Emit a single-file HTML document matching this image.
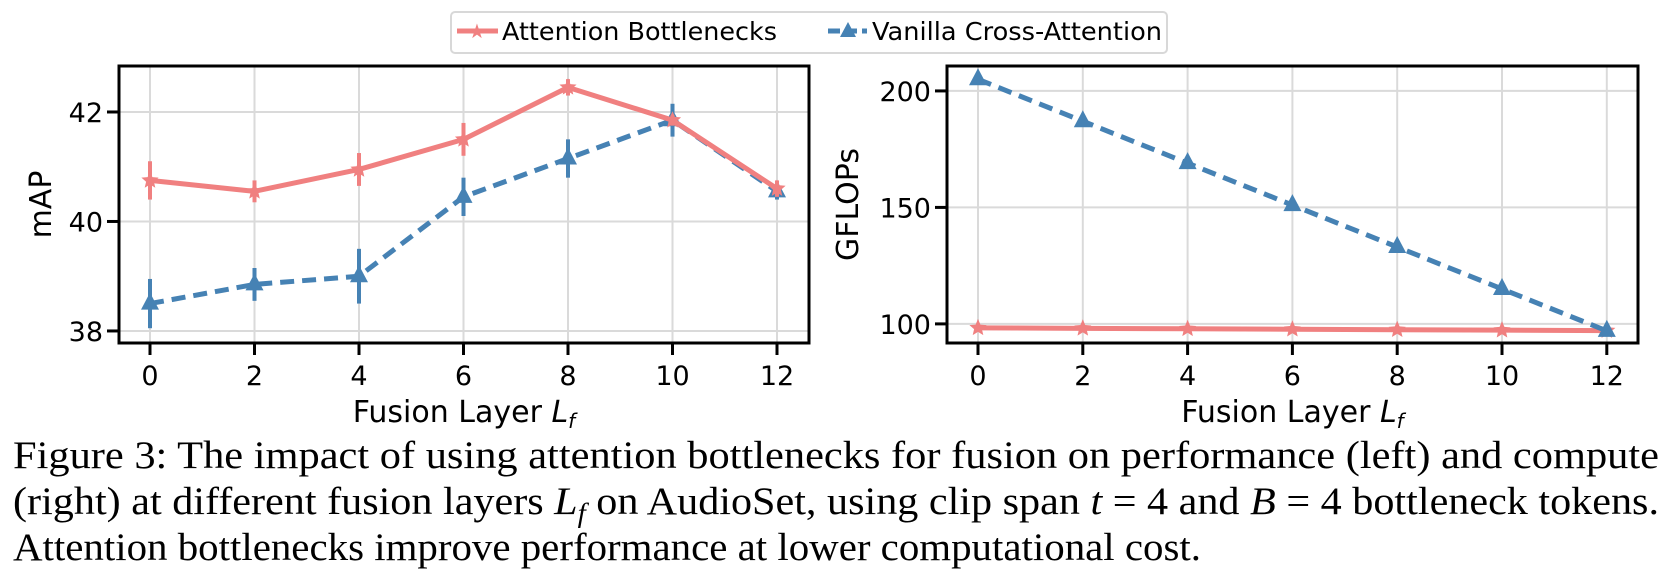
<!DOCTYPE html>
<html><head><meta charset="utf-8"><style>
html,body{margin:0;padding:0;background:#fff;}
svg{display:block;}
</style></head><body>
<svg id="fig" width="1662" height="578" viewBox="0 0 1662 578" xmlns="http://www.w3.org/2000/svg" font-family="DejaVu Sans, sans-serif">
<g id="legend">
  <rect x="451" y="12" width="716" height="41" rx="4" fill="#fff" stroke="#d8d8d8" stroke-width="2"/>
  <g>
    <line x1="457" y1="31" x2="498" y2="31" stroke="#F08080" stroke-width="5"/>
    <text x="477" y="38" font-size="20" fill="#F08080" text-anchor="middle">★</text>
    <text x="502" y="40" font-size="25" textLength="275" lengthAdjust="spacingAndGlyphs">Attention Bottlenecks</text>
  </g>
  <g>
    <line x1="828" y1="31" x2="867" y2="31" stroke="#4682B4" stroke-width="5" stroke-dasharray="12,5"/>
    <polygon points="848,22 856,37 840,37" fill="#4682B4"/>
    <text x="872" y="40" font-size="25" textLength="290" lengthAdjust="spacingAndGlyphs">Vanilla Cross-Attention</text>
  </g>
</g>
<g id="left"></g>
<g id="right"></g>
<g font-family="Liberation Serif, serif" font-size="39">
  <text x="13" y="468" textLength="1646" lengthAdjust="spacingAndGlyphs">Figure 3: The impact of using attention bottlenecks for fusion on performance (left) and compute</text>
  <text x="13" y="514" textLength="1646" lengthAdjust="spacingAndGlyphs">(right) at different fusion layers <tspan font-style="italic">L</tspan><tspan font-style="italic" font-size="27" dy="8">f</tspan><tspan dy="-8"> on AudioSet, using clip span </tspan><tspan font-style="italic">t</tspan> = 4 and <tspan font-style="italic">B</tspan> = 4 bottleneck tokens.</text>
  <text x="13" y="560" textLength="1188" lengthAdjust="spacingAndGlyphs">Attention bottlenecks improve performance at lower computational cost.</text>
</g>
</svg>
<script>
const layers = [0, 2, 4, 6, 8, 10, 12];
const mapBottleneck = [40.75, 40.55, 40.95, 41.5, 42.45, 41.85, 40.6];
const mapBottleneckErr = [0.35, 0.2, 0.3, 0.3, 0.15, 0.1, 0.15];
const mapVanilla = [38.5, 38.85, 39.0, 40.45, 41.15, 41.85, 40.55];
const mapVanillaErr = [0.45, 0.3, 0.5, 0.35, 0.35, 0.3, 0.15];
const gflopsBottleneck = [98.3, 98.1, 97.9, 97.7, 97.5, 97.3, 97.1];
const gflopsVanilla = [205, 187, 169, 151, 133, 115, 97];
const xTicks = [0, 2, 4, 6, 8, 10, 12];
const mapTicks = [38, 40, 42];
const gflopsTicks = [100, 150, 200];

const NS = 'http://www.w3.org/2000/svg';
function mk(parent, tag, attrs, text) {
  const e = document.createElementNS(NS, tag);
  for (const k in attrs) e.setAttribute(k, attrs[k]);
  if (text !== undefined) e.textContent = text;
  parent.appendChild(e);
  return e;
}
function star(cx, cy, r) {
  let p = [];
  for (let i = 0; i < 10; i++) {
    const a = -Math.PI / 2 + i * Math.PI / 5;
    const rr = i % 2 ? r * 0.45 : r;
    p.push((cx + rr * Math.cos(a)).toFixed(1) + ',' + (cy + rr * Math.sin(a)).toFixed(1));
  }
  return p.join(' ');
}
function drawChart(g, cfg) {
  const L = cfg.box[0], T = 66, R = cfg.box[1], B = 343;
  const xs = v => cfg.x0 + (v - 0) * cfg.xStep / 2;
  const ys = v => B - (v - cfg.yMin) / (cfg.yMax - cfg.yMin) * (B - T);
  xTicks.forEach(t => {
    const l = mk(g, 'line', {x1: xs(t), x2: xs(t), y1: T, y2: B, stroke: '#dadada', 'stroke-width': 2});
    
    
    mk(g, 'line', {x1: xs(t), x2: xs(t), y1: B, y2: B + 12, stroke: '#000', 'stroke-width': 3});
    const tx = mk(g, 'text', {x: xs(t), y: 385, 'font-size': 27, 'text-anchor': 'middle'}, String(t));
    
    
  });
  cfg.yTicks.forEach(t => {
    const l = mk(g, 'line', {x1: L, x2: R, y1: ys(t), y2: ys(t), stroke: '#dadada', 'stroke-width': 2});
    
    
    mk(g, 'line', {x1: L - 12, x2: L, y1: ys(t), y2: ys(t), stroke: '#000', 'stroke-width': 3});
    const tx = mk(g, 'text', {x: L - 16, y: ys(t) + 10, 'font-size': 27, 'text-anchor': 'end'}, String(t));
    
    
  });
  cfg.series.forEach(s => {
    const sg = mk(g, 'g', {});
    
    
    const pts = layers.map((v, i) => xs(v) + ',' + ys(s.vals[i])).join(' ');
    const attrs = {points: pts, fill: 'none', stroke: s.color, 'stroke-width': 5, 'stroke-linejoin': 'round'};
    if (s.dash) attrs['stroke-dasharray'] = '14,8';
    mk(sg, 'polyline', attrs);
    layers.forEach((v, i) => {
      if (s.err) {
        const e = mk(sg, 'line', {x1: xs(v), x2: xs(v), y1: ys(s.vals[i] - s.err[i]), y2: ys(s.vals[i] + s.err[i]), stroke: s.color, 'stroke-width': 4});
        
        
      }
      const cx = xs(v), cy = ys(s.vals[i]);
      let m;
      if (s.marker === 'star') m = mk(sg, 'polygon', {points: star(cx, cy, 9), fill: s.color});
      else m = mk(sg, 'polygon', {points: `${cx},${cy - 11} ${cx + 9},${cy + 6} ${cx - 9},${cy + 6}`, fill: s.color});
      
      
    });
  });
  const box = mk(g, 'rect', {x: L, y: T, width: R - L, height: B - T, fill: 'none', stroke: '#000', 'stroke-width': 3});
  
  
  const xl = mk(g, 'text', {x: (L + R) / 2, y: 422, 'font-size': 30, 'text-anchor': 'middle'});
  
  
  xl.innerHTML = 'Fusion Layer <tspan font-style="italic">L</tspan><tspan font-style="italic" font-size="20" dy="6">f</tspan>';
  const yl = mk(g, 'text', {x: 0, y: 0, 'font-size': 30, 'text-anchor': 'middle', transform: `translate(${cfg.ylx},${(T + B) / 2}) rotate(-90)`}, cfg.yTitle);
  
  
}
drawChart(document.getElementById('left'), {
  box: [119, 809], x0: 150, xStep: 104.5, yMin: 37.78, yMax: 42.84, yTicks: mapTicks, yTitle: 'mAP', ylx: 51,
  series: [
    {name: 'series-vanilla-cross-attention', vals: mapVanilla, err: mapVanillaErr, color: '#4682B4', dash: true, marker: 'tri'},
    {name: 'series-attention-bottlenecks', vals: mapBottleneck, err: mapBottleneckErr, color: '#F08080', dash: false, marker: 'star'}
  ]
});
drawChart(document.getElementById('right'), {
  box: [947, 1638], x0: 978, xStep: 104.8, yMin: 91.8, yMax: 210.7, yTicks: gflopsTicks, yTitle: 'GFLOPs', ylx: 858,
  series: [
    {name: 'series-attention-bottlenecks', vals: gflopsBottleneck, err: null, color: '#F08080', dash: false, marker: 'star'},
    {name: 'series-vanilla-cross-attention', vals: gflopsVanilla, err: null, color: '#4682B4', dash: true, marker: 'tri'}
  ]
});
</script>
</body></html>
